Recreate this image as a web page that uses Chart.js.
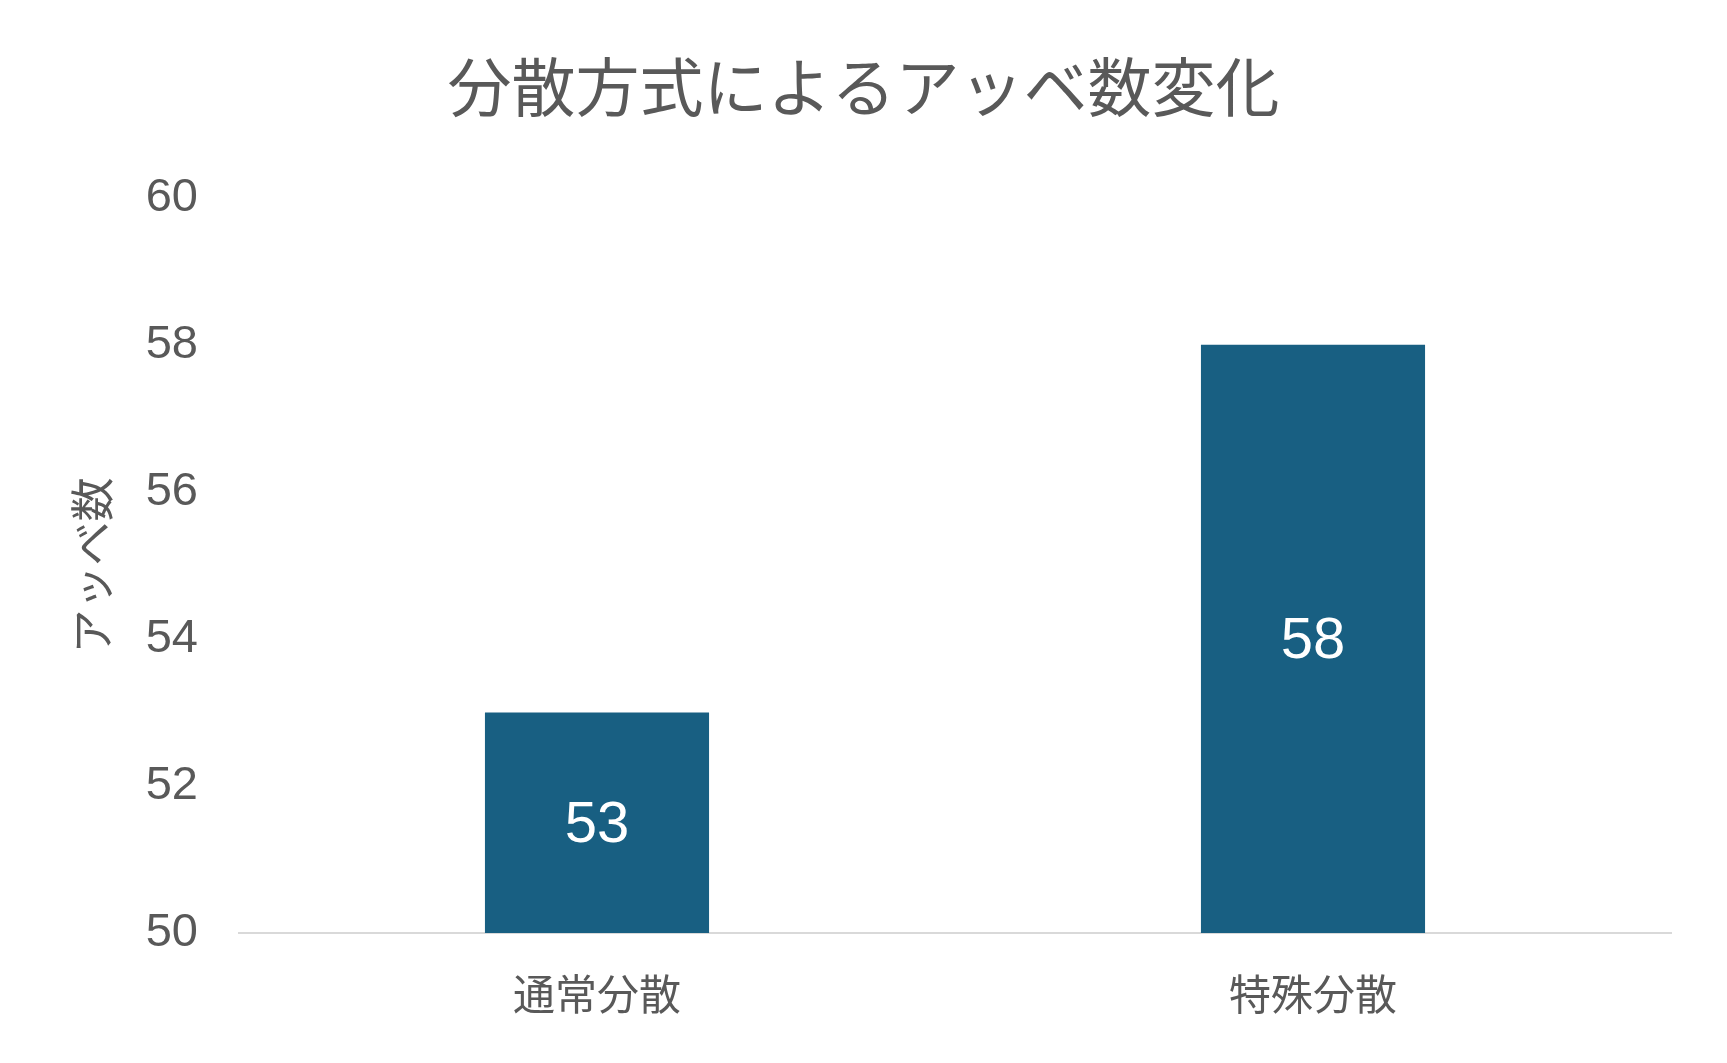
<!DOCTYPE html>
<html lang="ja">
<head>
<meta charset="utf-8">
<title>分散方式によるアッベ数変化</title>
<script src="https://cdn.jsdelivr.net/npm/chart.js@4/dist/chart.umd.min.js"></script>
<style>
  body { margin: 0; background: #fff; }
  #wrap { width: 1727px; height: 1063px; }
</style>
</head>
<body>
<div id="wrap"><canvas id="myChart" width="1727" height="1063"></canvas></div>
<script>
const categories = ['通常分散', '特殊分散'];
const abbeValues = [53, 58];
const yTicks = [50, 52, 54, 56, 58, 60];

const textGray = '#595959';
const barColor = '#185f82';
const fontFamily = "'Liberation Sans', 'Noto Sans CJK JP', sans-serif";

// draws the value in the middle of the visible part of each bar
const barValueLabels = {
    id: 'barValueLabels',
    afterDatasetsDraw(chart) {
        const c = chart.ctx;
        const meta = chart.getDatasetMeta(0);
        const values = chart.data.datasets[0].data;
        const bottom = chart.chartArea.bottom;
        c.save();
        c.fillStyle = '#ffffff';
        c.font = '58px ' + fontFamily;
        c.textAlign = 'center';
        c.textBaseline = 'middle';
        for (let i = 0; i < meta.data.length; i++) {
            const bar = meta.data[i];
            const base = Math.min(bar.base, bottom);
            c.fillText(String(values[i]), bar.x, (bar.y + base) / 2 + 3);
        }
        c.restore();
    }
};

const ctx = document.getElementById('myChart');

new Chart(ctx, {
    type: 'bar',
    data: {
        labels: categories,
        datasets: [{
            label: 'アッベ数',
            data: abbeValues,
            backgroundColor: barColor,
            borderWidth: 0,
            barPercentage: 0.313,
            categoryPercentage: 1
        }]
    },
    options: {
        responsive: false,
        animation: false,
        layout: {
            padding: 0
        },
        plugins: {
            legend: { display: false },
            tooltip: { enabled: false },
            title: {
                display: true,
                text: '分散方式によるアッベ数変化',
                color: textGray,
                font: { family: fontFamily, size: 64, weight: 'normal' },
                padding: { top: 55, bottom: 66 }
            }
        },
        scales: {
            x: {
                grid: { display: false, drawTicks: false },
                border: { display: true, color: '#d9d9d9', width: 2 },
                ticks: {
                    color: textGray,
                    padding: 40,
                    font: { family: fontFamily, size: 42 }
                },
                afterFit(scale) { scale.height = 130; }
            },
            y: {
                min: 50,
                max: 60,
                grid: { display: false, drawTicks: false },
                border: { display: false },
                afterBuildTicks(scale) {
                    scale.ticks = yTicks.map(function (v) { return { value: v }; });
                },
                ticks: {
                    color: textGray,
                    padding: 41,
                    font: { family: fontFamily, size: 47 }
                },
                title: {
                    display: true,
                    text: 'アッベ数',
                    color: textGray,
                    font: { family: fontFamily, size: 44 },
                    padding: { top: 70, bottom: 0 }
                },
                afterFit(scale) { scale.width = 239; }
            },
            // empty right margin so the title stays centred on the page
            yRight: {
                position: 'right',
                display: true,
                grid: { display: false, drawTicks: false },
                border: { display: false },
                ticks: { display: false },
                afterFit(scale) { scale.width = 56; }
            }
        }
    },
    plugins: [barValueLabels]
});
</script>
</body>
</html>
